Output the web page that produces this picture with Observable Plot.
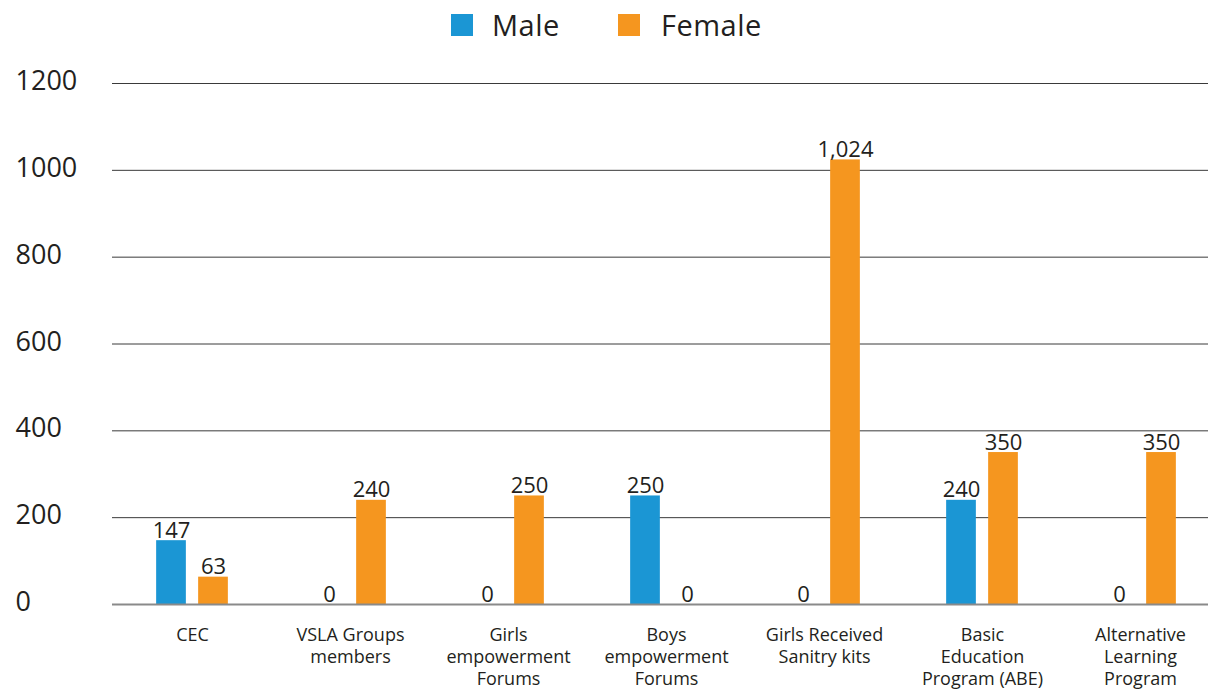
<!DOCTYPE html>
<html>
<head>
<meta charset="utf-8">
<script src="https://cdn.jsdelivr.net/npm/d3@7"></script>
<script src="https://cdn.jsdelivr.net/npm/@observablehq/plot@0.6"></script>
<style>
  html, body { margin: 0; padding: 0; background: #fff; overflow: hidden; }
  body { font-family: "Open Sans", sans-serif; color: #231f20; width: 1208px; }
  #legend { position: relative; height: 50px; }
  #legend .sw { position: absolute; top: 14px; width: 22px; height: 22px; }
  #legend .lt { position: absolute; top: 0; line-height: 50px; font-size: 29px; color: #231f20; letter-spacing: 0.5px; }
</style>
</head>
<body>
<div id="legend"></div>
<div id="chart"></div>
<script>
// ---- data ----
const categories = ["CEC", "VSLA Groups members", "Girls empowerment Forums", "Boys empowerment Forums", "Girls Received Sanitry kits", "Basic Education Program (ABE)", "Alternative Learning Program"];
const categoryLabels = ["CEC", "VSLA Groups\nmembers", "Girls\nempowerment\nForums", "Boys\nempowerment\nForums", "Girls Received\nSanitry kits", "Basic\nEducation\nProgram (ABE)", "Alternative\nLearning\nProgram"];
const series = ["Male", "Female"];
const male = [147, 0, 0, 250, 0, 240, 0];
const female = [63, 240, 250, 0, 1024, 350, 350];
const yTicks = [0, 200, 400, 600, 800, 1000, 1200];
const colors = ["#1b96d4", "#f5961f"];

const values = {Male: male, Female: female};
const data = categories.flatMap((c, i) => series.map(s => ({category: c, series: s, value: values[s][i]})));

// ---- legend ----
const legend = document.getElementById("legend");
const legendPos = [{sw: 451, tx: 492}, {sw: 618, tx: 661}];
series.forEach((s, i) => {
  const sw = document.createElement("div");
  sw.className = "sw"; sw.style.left = legendPos[i].sw + "px"; sw.style.background = colors[i];
  const t = document.createElement("div");
  t.className = "lt"; t.style.left = legendPos[i].tx + "px"; t.textContent = s;
  legend.append(sw, t);
});

// ---- chart ----
const width = 1208, height = 640;
const xRange = [112, 1220];
const step = (xRange[1] - xRange[0]) / categories.length;
const barW = 30, off = 21;
const inset = (step - barW) / 2;
const dxOf = {Male: -off, Female: off};
const fmt = d3.format(",");

const marks = [
  Plot.ruleY(yTicks.filter(d => d > 0), {stroke: "#3a3a3a", strokeWidth: 1}),
  ...series.map(s => Plot.barY(data.filter(d => d.series === s), {
    x: "category", y: "value", fill: "series", dx: dxOf[s], insetLeft: inset, insetRight: inset
  })),
  Plot.ruleY([0], {stroke: "#8a8a8a", strokeWidth: 2}),
  ...series.map(s => Plot.text(data.filter(d => d.series === s), {
    x: "category", y: "value", text: d => fmt(d.value), dx: dxOf[s], dy: -3,
    lineAnchor: "bottom", fontSize: 22, fill: "#231f20", style: "letter-spacing:0.6px"
  })),
  Plot.text(categories, {
    x: d => d, text: (d, i) => categoryLabels[i], frameAnchor: "bottom", lineAnchor: "top",
    dy: 21, fontSize: 18, lineHeight: 22 / 18, fill: "#231f20"
  }),
  Plot.axisY({ticks: yTicks, tickFormat: d3.format("d"), tickSize: 0, tickPadding: 0, textAnchor: "start", dx: -97, dy: -2, fontSize: 27, color: "#231f20", label: null})
];

const chart = Plot.plot({
  width, height,
  marginLeft: 112, marginRight: 0, marginTop: 33, marginBottom: 86,
  style: {fontFamily: "Open Sans, sans-serif", color: "#231f20", background: "#fff"},
  x: {domain: categories, range: xRange, padding: 0, axis: null},
  y: {domain: [0, 1200], axis: null},
  color: {domain: series, range: colors},
  marks
});
document.getElementById("chart").append(chart);
</script>
</body>
</html>
